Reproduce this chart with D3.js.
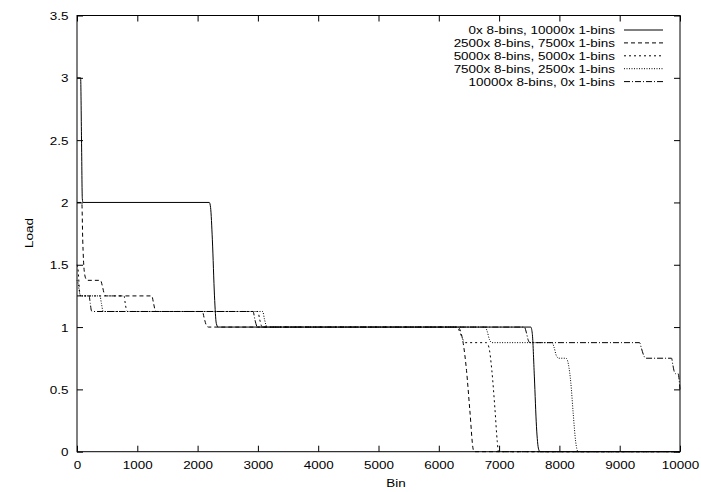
<!DOCTYPE html>
<html><head><meta charset="utf-8">
<script src="https://cdn.jsdelivr.net/npm/d3@7/dist/d3.min.js"></script>
<style>
body{margin:0;background:#fff}
text{font-family:"Liberation Sans",Arial,Helvetica,sans-serif;font-size:11.5px;fill:#000}
</style>
</head><body>
<svg id="c" width="701" height="492"></svg>
<script>
// ---- data ----
const xTicks = [0,1000,2000,3000,4000,5000,6000,7000,8000,9000,10000];
const yTicks = [0,0.5,1,1.5,2,2.5,3,3.5];
const yTickLabels = ["0","0.5","1","1.5","2","2.5","3","3.5"];
const seriesNames = [
  "0x 8-bins, 10000x 1-bins",
  "2500x 8-bins, 7500x 1-bins",
  "5000x 8-bins, 5000x 1-bins",
  "7500x 8-bins, 2500x 1-bins",
  "10000x 8-bins, 0x 1-bins"
];
// [bin, load]
const s0 = [[0,3],[60,3],[75,2.5],[88,2.03],[100,2],[2195,2],[2215,1.96],[2245,1.7],[2280,1.25],[2310,1.03],[2340,1],
  [7525,1],[7550,0.95],[7585,0.6],[7620,0.2],[7655,0.02],[7680,0],[10000,0]];
const s1 = [[0,2],[80,2],[95,1.7],[120,1.45],[150,1.385],[175,1.375],[390,1.375],[420,1.33],[450,1.27],[480,1.25],
  [1240,1.25],[1270,1.19],[1300,1.13],[1320,1.125],[2080,1.125],[2110,1.07],[2150,1.01],[2180,1],
  [6320,1],[6350,0.98],[6405,0.87],[6460,0.65],[6515,0.33],[6570,0.02],[6590,0],[10000,0]];
const s2 = [[0,1.5],[20,1.45],[40,1.3],[60,1.25],[780,1.25],[800,1.19],[825,1.13],[840,1.125],
  [3000,1.125],[3030,1.06],[3065,1.005],[3085,1],[6300,1],[6340,0.97],[6400,0.9],[6440,0.875],
  [6790,0.875],[6830,0.84],[6880,0.65],[6930,0.35],[6970,0.08],[6990,0],[10000,0]];
const s3 = [[0,1.375],[20,1.35],[40,1.28],[60,1.25],[380,1.25],[405,1.19],[430,1.13],[445,1.125],
  [3080,1.125],[3110,1.06],[3145,1.005],[3165,1],[6770,1],[6800,0.97],[6840,0.9],[6880,0.875],
  [7880,0.875],[7910,0.84],[7950,0.77],[7990,0.75],[8110,0.75],[8150,0.7],[8190,0.55],[8230,0.3],[8270,0.08],[8310,0],[10000,0]];
const s4 = [[0,1.25],[200,1.25],[220,1.19],[240,1.13],[255,1.125],[2920,1.125],[2950,1.06],[2985,1.005],[3005,1],
  [7420,1],[7450,0.96],[7480,0.9],[7510,0.875],[9330,0.875],[9360,0.83],[9400,0.77],[9430,0.75],
  [9860,0.75],[9880,0.7],[9910,0.635],[9930,0.625],[9970,0.625],[9985,0.58],[10000,0.5]];
const seriesData = [s0,s1,s2,s3,s4];
const dashes = ["none","4,3","2,3","1,1.5","6,2,1,2"];

// ---- layout ----
const L=77, R=680, T=15.5, B=451.7, SX=1.17;
const svg = d3.select("#c");
svg.append("rect").attr("width",701).attr("height",492).attr("fill","#fff");
const x = d3.scaleLinear().domain([0,10000]).range([L,R]);
const y = d3.scaleLinear().domain([0,3.5]).range([B,T]);

// axes
const gB = svg.append("g").attr("transform",`translate(0,${B})`)
  .call(d3.axisBottom(x).tickValues(xTicks).tickFormat(d3.format("d")).tickSizeInner(-6).tickSizeOuter(0));
gB.selectAll("text").attr("y",9).attr("dy","0.71em");
const gT = svg.append("g").attr("transform",`translate(0,${T})`)
  .call(d3.axisTop(x).tickValues(xTicks).tickFormat("").tickSizeInner(-6).tickSizeOuter(0));
const gL = svg.append("g").attr("transform",`translate(${L},0)`)
  .call(d3.axisLeft(y).tickValues(yTicks).tickFormat((d,i)=>yTickLabels[i]).tickSizeInner(-6).tickSizeOuter(0));
gL.selectAll("text").attr("dy","0.35em");
const gR = svg.append("g").attr("transform",`translate(${R},0)`)
  .call(d3.axisRight(y).tickValues(yTicks).tickFormat("").tickSizeInner(-6).tickSizeOuter(0));
[gB,gT,gL,gR].forEach(g=>{ g.select(".domain").remove(); g.selectAll("line").attr("stroke","#000");
  g.selectAll("text").attr("font-size",null).attr("font-family",null).attr("fill","#000"); });
gB.selectAll("text").attr("transform",`scale(${SX},1)`);
gL.selectAll("text").attr("x",-8.5/SX).attr("transform",`scale(${SX},1)`);

// lines
const line = d3.line().x(d=>x(d[0])).y(d=>y(d[1])).curve(d3.curveMonotoneX);
seriesData.forEach((s,i)=>{
  svg.append("path").datum(s).attr("d",line).attr("fill","none").attr("stroke","#000")
    .attr("stroke-width",1).attr("stroke-dasharray",dashes[i]);
});

// border
svg.append("rect").attr("x",L).attr("y",T).attr("width",R-L).attr("height",B-T)
  .attr("fill","none").attr("stroke","#000").attr("stroke-width",1);

// legend
const lg = svg.append("g");
seriesNames.forEach((n,i)=>{
  const yy = 30 + 12.9*i;
  lg.append("text").attr("transform",`translate(615,${yy}) scale(${SX},1)`).attr("text-anchor","end").attr("dy","0.35em").text(n);
  lg.append("line").attr("x1",624).attr("x2",663).attr("y1",yy).attr("y2",yy)
    .attr("stroke","#000").attr("stroke-width",1).attr("stroke-dasharray",dashes[i]);
});

// axis titles
svg.append("text").attr("transform",`translate(396,487) scale(${SX},1)`).attr("text-anchor","middle").text("Bin");
svg.append("text").attr("transform",`translate(33,233) rotate(-90) scale(${SX},1)`).attr("text-anchor","middle").text("Load");
</script>
</body></html>
